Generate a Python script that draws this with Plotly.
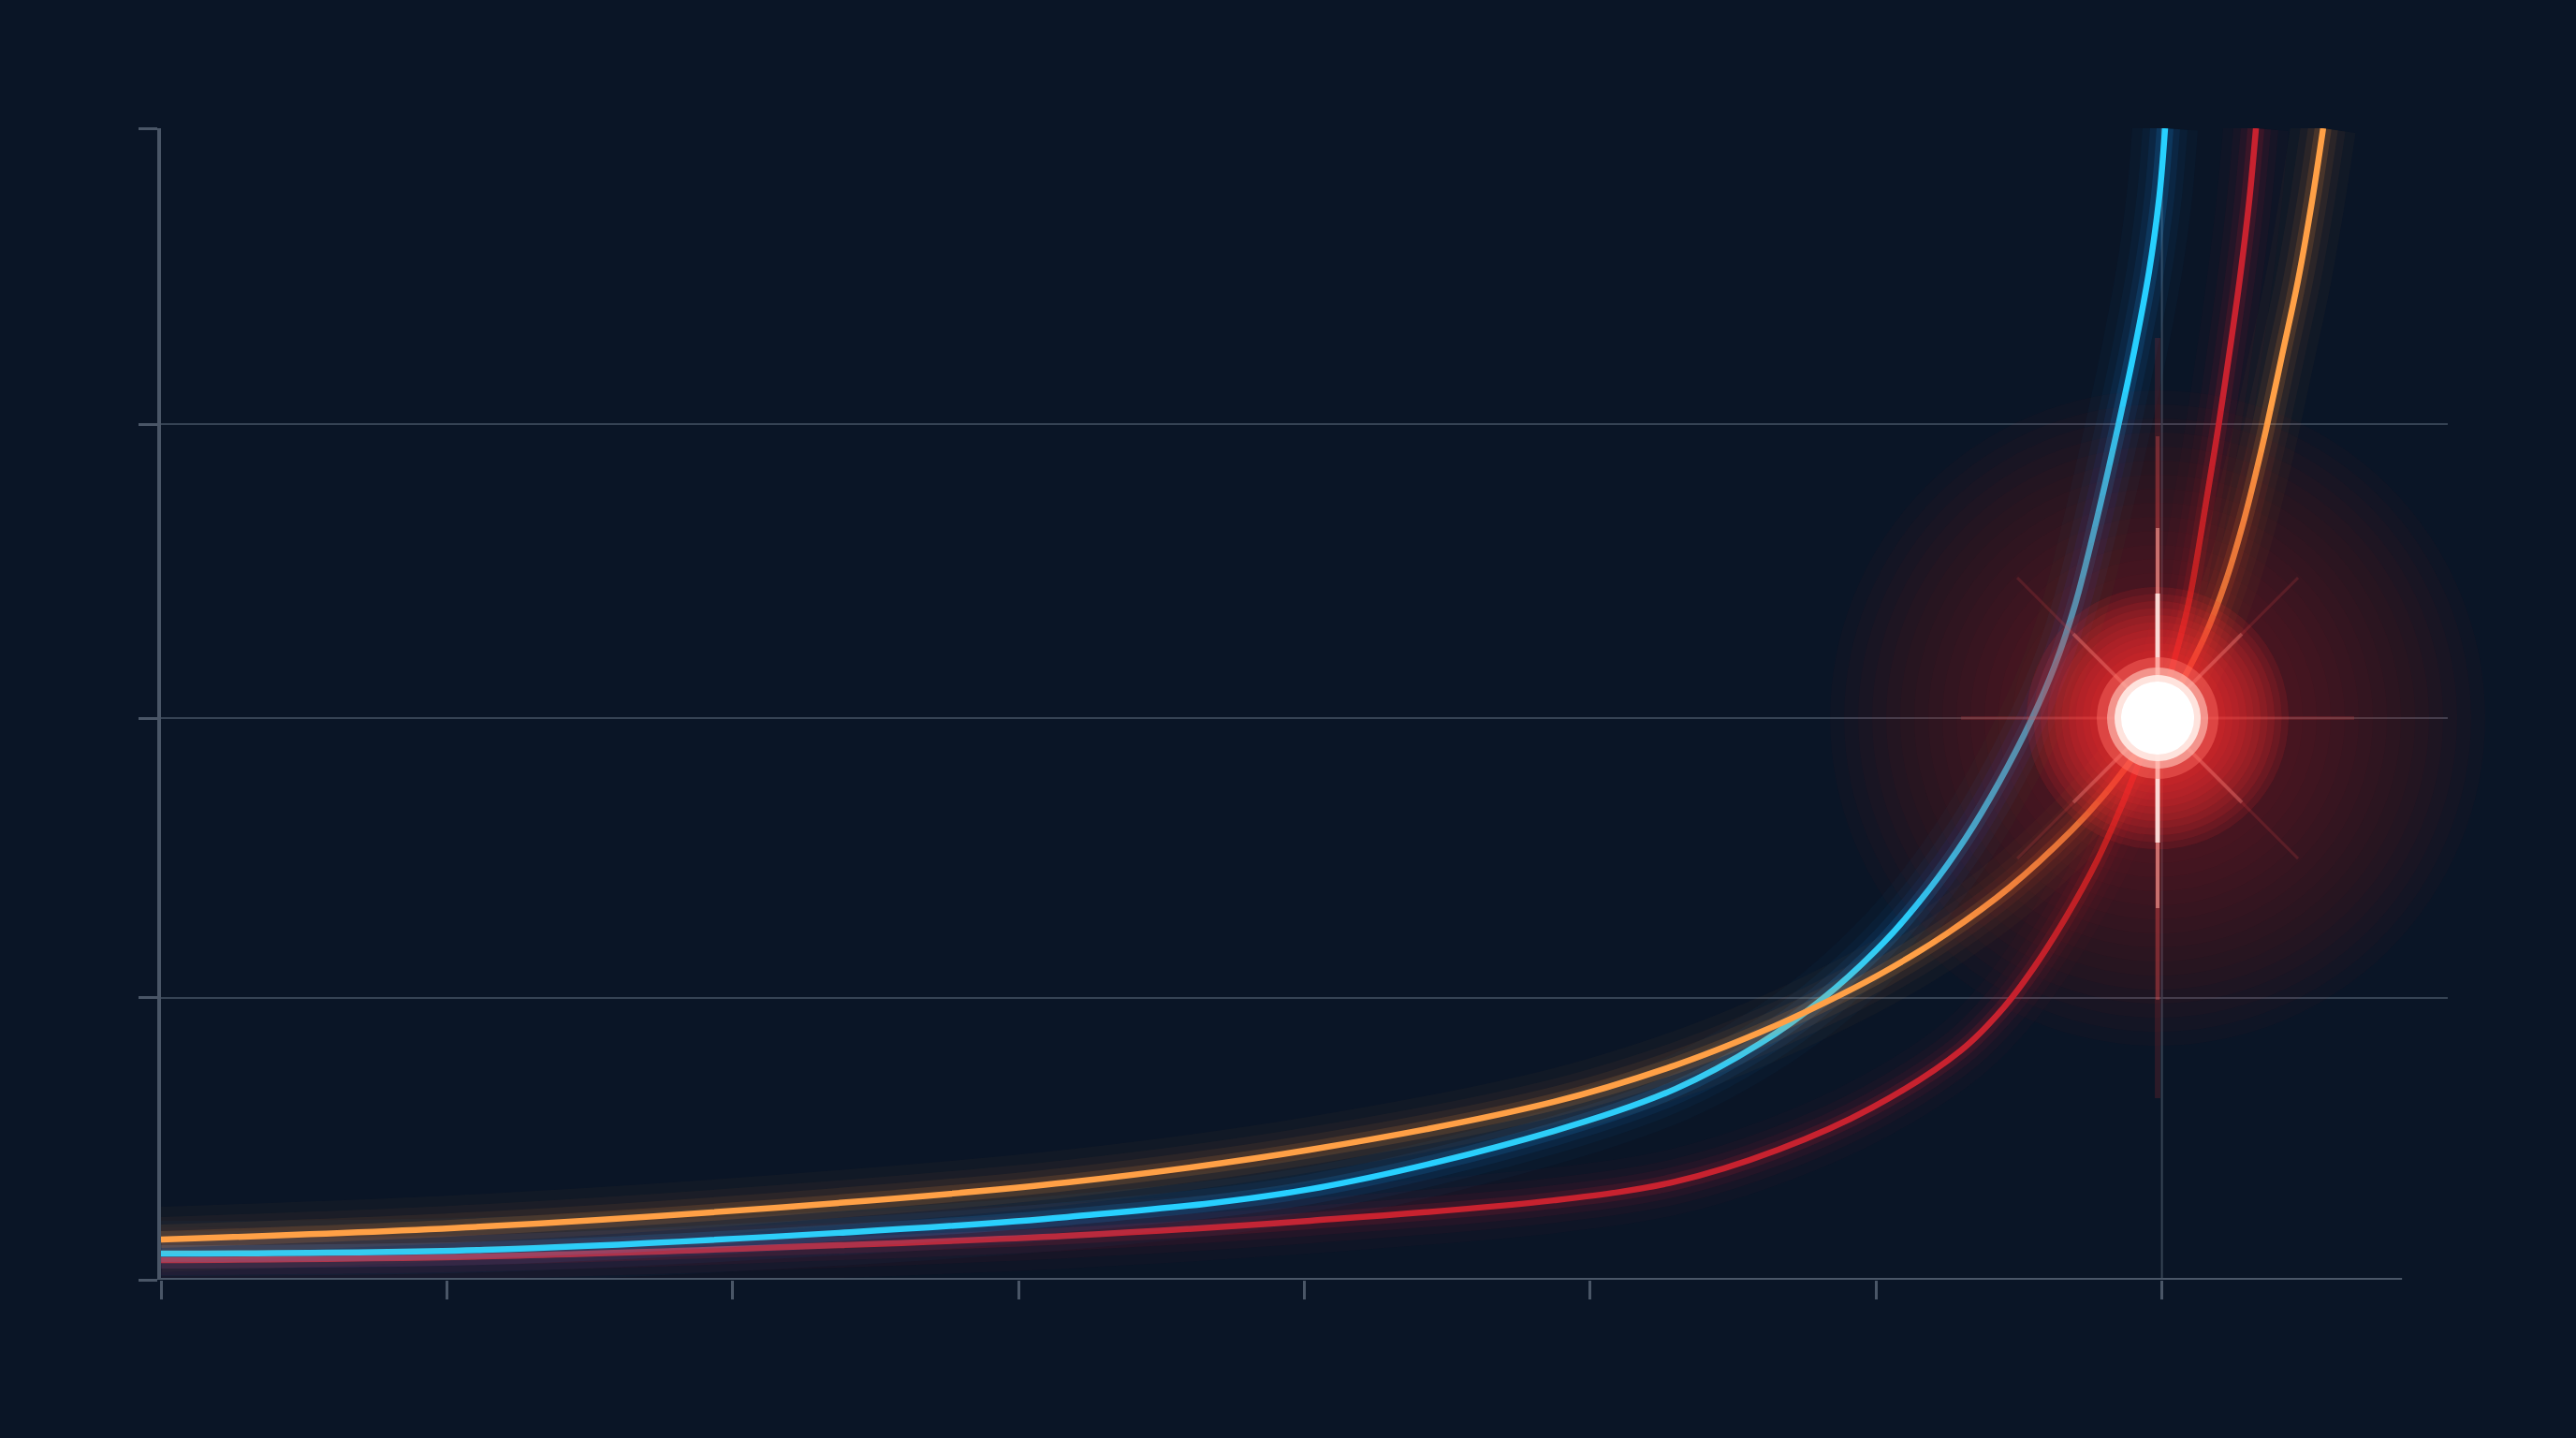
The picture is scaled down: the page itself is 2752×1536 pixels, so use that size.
import plotly.graph_objects as go

# ---------------- data ----------------
x_ticks = [0, 1, 2, 3, 4, 5, 6, 7]
y_grid = [0, 0.979, 1.951, 2.972, 4.0]

orange_x = [0, 1.130, 2.371, 3.170, 4.021, 4.873, 5.298, 5.593, 5.813, 6.029, 6.248,
            6.467, 6.684, 6.795, 6.903, 6.991, 7.067, 7.149, 7.224, 7.283, 7.329,
            7.365, 7.420, 7.476, 7.525, 7.564]
orange_y = [0.140, 0.185, 0.267, 0.338, 0.452, 0.618, 0.745, 0.859, 0.959, 1.070, 1.203,
            1.363, 1.561, 1.681, 1.818, 1.941, 2.072, 2.234, 2.429, 2.624, 2.803,
            2.956, 3.210, 3.470, 3.746, 4.000]

blue_x = [0, 1.130, 2.371, 3.170, 4.021, 4.873, 5.298, 5.593, 5.813, 6.029, 6.183,
          6.314, 6.428, 6.546, 6.625, 6.697, 6.772, 6.847, 6.903, 6.955, 6.991, 7.011]
blue_y = [0.091, 0.104, 0.163, 0.218, 0.315, 0.517, 0.663, 0.820, 0.976, 1.174, 1.353,
          1.535, 1.724, 1.951, 2.133, 2.348, 2.641, 2.966, 3.226, 3.502, 3.763, 4.000]

red_x = [0, 1.130, 2.371, 3.170, 4.021, 4.873, 5.298, 5.658, 5.986, 6.297, 6.444,
         6.553, 6.664, 6.772, 6.860, 6.913, 6.985, 7.034, 7.093, 7.158, 7.198,
         7.237, 7.273, 7.306, 7.329]
red_y = [0.068, 0.081, 0.120, 0.153, 0.205, 0.276, 0.341, 0.452, 0.598, 0.797, 0.943,
         1.086, 1.259, 1.454, 1.649, 1.779, 1.951, 2.120, 2.348, 2.722, 2.966,
         3.226, 3.480, 3.753, 4.000]

asymptote_x = [7.0]
flare_x = [6.985]
flare_y = [1.951]
x_axis_end = 7.84

# ---------------- style ----------------
BG = "#0A1526"
GRID = "#364354"
AXIS = "#4A5667"

fig = go.Figure()


def add_line(x, y, rgb, core, glow_layers):
    for w, a in glow_layers:
        fig.add_trace(go.Scatter(
            x=x, y=y, mode="lines",
            line=dict(color=f"rgba({rgb},{a})", width=w, shape="spline", smoothing=1.0),
            hoverinfo="skip", showlegend=False))
    fig.add_trace(go.Scatter(
        x=x, y=y, mode="lines",
        line=dict(color=core, width=6.5, shape="spline", smoothing=1.0),
        hoverinfo="skip", showlegend=False))


glow = [(70, 0.03), (48, 0.045), (32, 0.07), (18, 0.14)]
add_line(red_x, red_y, "200,30,50", "#C8222F", glow)
add_line(blue_x, blue_y, "30,160,255", "#27D0FF", glow)
add_line(orange_x, orange_y, "255,150,60", "#FFA046", glow)

# ---- flare / glow at the meeting point ----
def add_disc(size, col):
    fig.add_trace(go.Scatter(
        x=flare_x, y=flare_y, mode="markers", cliponaxis=False,
        marker=dict(size=size, color=col, line=dict(width=0)),
        hoverinfo="skip", showlegend=False))


for i in range(18):
    add_disc(700 - i * 30, "rgba(200,25,35,0.032)")
for i in range(10):
    add_disc(280 - i * 15, "rgba(255,45,45,0.10)")

rays = [
    ("line-ns-open", 580, 6, "rgba(255,60,60,0.14)"),
    ("line-ns-open", 430, 4, "rgba(255,90,90,0.28)"),
    ("line-ns-open", 290, 4, "rgba(255,170,160,0.55)"),
    ("line-ns-open", 190, 5, "rgba(255,235,230,0.85)"),
    ("line-ew-open", 300, 4, "rgba(255,80,80,0.16)"),
    ("line-ne-open", 300, 3, "rgba(255,80,80,0.16)"),
    ("line-nw-open", 300, 3, "rgba(255,80,80,0.16)"),
    ("line-ne-open", 180, 4, "rgba(255,150,140,0.30)"),
    ("line-nw-open", 180, 4, "rgba(255,150,140,0.30)"),
]
for sym, size, lw, col in rays:
    fig.add_trace(go.Scatter(
        x=flare_x, y=flare_y, mode="markers", cliponaxis=False,
        marker=dict(symbol=sym, size=size, color=col, line=dict(width=lw, color=col)),
        hoverinfo="skip", showlegend=False))

for size, col in [(130, "rgba(255,110,100,0.45)"), (108, "rgba(255,190,180,0.65)"),
                  (92, "rgba(255,235,230,0.9)"), (78, "rgba(255,255,255,1)")]:
    add_disc(size, col)

# ---- vertical asymptote line and x-axis line ----
fig.add_shape(type="line", xref="x", yref="y",
              x0=asymptote_x[0], x1=asymptote_x[0], y0=0, y1=y_grid[-1],
              line=dict(color=GRID, width=2), layer="below")
fig.add_shape(type="line", xref="x", yref="y",
              x0=0, x1=x_axis_end, y0=0, y1=0,
              line=dict(color=AXIS, width=4), layer="above")

fig.update_layout(
    width=2752, height=1536,
    paper_bgcolor=BG, plot_bgcolor=BG,
    margin=dict(l=172, r=137, t=137, b=169),
    showlegend=False,
    xaxis=dict(range=[0, 8], showgrid=False, zeroline=False, showline=False,
               tickvals=x_ticks, ticks="outside", ticklen=20, tickwidth=3,
               tickcolor=AXIS, showticklabels=False, fixedrange=True),
    yaxis=dict(range=[0, 4], showgrid=True, gridcolor=GRID, gridwidth=2,
               zeroline=False, showline=True, linecolor=AXIS, linewidth=4,
               tickvals=y_grid, ticks="outside", ticklen=20, tickwidth=3,
               tickcolor=AXIS, showticklabels=False, fixedrange=True),
)

fig.write_html(
    "out.html",
    config={"displayModeBar": False},
    post_script="document.body.style.margin='0';document.body.style.background='#0A1526';"
                "document.body.style.overflow='hidden';",
)
